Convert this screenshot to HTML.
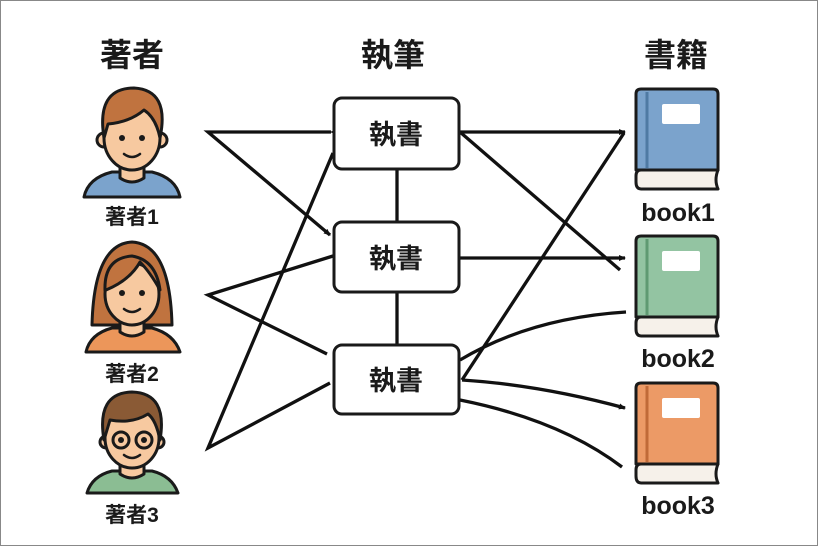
<!DOCTYPE html>
<html><head><meta charset="utf-8"><style>
html,body{margin:0;padding:0;background:#fff}
svg{display:block}
text{font-family:"Liberation Sans","Noto Sans CJK JP",sans-serif;font-weight:bold;fill:#1a1a1a}
</style></head><body>
<svg width="818" height="546" viewBox="0 0 818 546" xmlns="http://www.w3.org/2000/svg">
<defs>
<marker id="a" markerWidth="8" markerHeight="8" refX="6" refY="4" orient="auto" markerUnits="userSpaceOnUse"><path d="M0,1 L7,4 L0,7 z" fill="#111"/></marker>
</defs>
<rect x="0.5" y="0.5" width="817" height="545" fill="#fff" stroke="#888"/>
<text x="132" y="66" font-size="32" text-anchor="middle">著者</text>
<text x="393" y="66" font-size="32" text-anchor="middle">執筆</text>
<text x="676" y="66" font-size="32" text-anchor="middle">書籍</text>

<!-- author avatars -->
<g stroke="#1a1a1a" stroke-width="3" stroke-linejoin="round">
 <!-- author1 -->
 <path d="M84,197 Q88,178 112,172 L152,172 Q176,178 180,197 Z" fill="#7ba3cc"/>
 <path d="M120,160 L120,178 Q132,186 144,178 L144,160 Z" fill="#f7c9a0"/>
 <circle cx="104" cy="140" r="7" fill="#f7c9a0"/><circle cx="160" cy="140" r="7" fill="#f7c9a0"/>
 <ellipse cx="132" cy="138" rx="28" ry="32" fill="#f7c9a0"/>
 <path d="M104,138 Q96,88 134,88 Q170,90 160,138 Q156,118 144,110 Q130,122 108,124 Z" fill="#c0733f"/>
 <!-- author2 -->
 <path d="M92,325 Q94,244 132,242 Q170,244 172,325 Z" fill="#c0733f"/>
 <path d="M86,352 Q90,334 112,328 L152,328 Q174,334 180,352 Z" fill="#ec965a"/>
 <path d="M120,315 L120,332 Q132,340 144,332 L144,315 Z" fill="#f7c9a0"/>
 <ellipse cx="132" cy="294" rx="27" ry="31" fill="#f7c9a0"/>
 <path d="M105,290 Q104,258 132,256 Q156,260 160,290 Q150,272 140,262 Q130,280 106,290 Z" fill="#c0733f"/>
 <!-- author3 -->
 <path d="M87,493 Q92,476 112,471 L152,471 Q172,476 178,493 Z" fill="#8bbd93"/>
 <path d="M120,458 L120,474 Q132,482 144,474 L144,458 Z" fill="#f7c9a0"/>
 <circle cx="106" cy="442" r="6" fill="#f7c9a0"/><circle cx="158" cy="442" r="6" fill="#f7c9a0"/>
 <ellipse cx="132" cy="438" rx="27" ry="30" fill="#f7c9a0"/>
 <path d="M104,440 Q96,393 132,392 Q168,393 160,440 Q156,420 148,414 Q132,424 110,420 Z" fill="#8a5a35"/>
 <circle cx="121" cy="440" r="8" fill="none"/><circle cx="144" cy="440" r="8" fill="none"/>
</g>
<g fill="#1a1a1a">
 <circle cx="122" cy="138" r="3"/><circle cx="142" cy="138" r="3"/>
 <circle cx="122" cy="293" r="3"/><circle cx="142" cy="293" r="3"/>
 <circle cx="121" cy="440" r="3"/><circle cx="144" cy="440" r="3"/>
</g>
<g fill="none" stroke="#1a1a1a" stroke-width="2.5" stroke-linecap="round">
 <path d="M124,154 Q132,160 140,154"/><path d="M124,309 Q132,315 140,309"/><path d="M124,455 Q132,461 140,455"/>
</g>
<text x="132" y="224" font-size="21" text-anchor="middle">著者1</text>
<text x="132" y="381" font-size="21" text-anchor="middle">著者2</text>
<text x="132" y="522" font-size="21" text-anchor="middle">著者3</text>

<!-- connectors -->
<g stroke="#111" stroke-width="3.3" fill="none">
 <line x1="397" y1="169" x2="397" y2="222"/>
 <line x1="397" y1="292" x2="397" y2="345"/>
 <polyline points="331,132 208,132 330,235" marker-start="url(#a)" marker-end="url(#a)"/>
 <polyline points="333,256 208,295 327,354"/>
 <polyline points="333,153 208,448 330,383"/>
 <line x1="460" y1="132" x2="625" y2="132" marker-end="url(#a)"/>
 <line x1="460" y1="132" x2="620" y2="270"/>
 <line x1="460" y1="258" x2="625" y2="258" marker-end="url(#a)"/>
 <line x1="462" y1="380" x2="624" y2="133"/>
 <path d="M460,360 Q530,318 626,312"/>
 <path d="M462,380 Q540,385 625,408" marker-end="url(#a)"/>
 <path d="M460,400 Q560,420 622,467"/>
</g>

<!-- boxes -->
<g stroke="#1a1a1a" stroke-width="3" fill="#fff">
 <rect x="334" y="98" width="125" height="71" rx="8"/>
 <rect x="334" y="222" width="125" height="70" rx="8"/>
 <rect x="334" y="345" width="125" height="69" rx="8"/>
</g>
<text x="396" y="144" font-size="27" text-anchor="middle">執書</text>
<text x="396" y="268" font-size="27" text-anchor="middle">執書</text>
<text x="396" y="390" font-size="27" text-anchor="middle">執書</text>

<!-- books -->
<g stroke="#1a1a1a" stroke-width="3" stroke-linejoin="round">
 <g>
  <path d="M636,170 L636,94 Q636,89 641,89 L713,89 Q718,89 718,94 L718,170 Z" fill="#7ba3cc"/>
  <path d="M641,170 L718,170 Q714,180 718,189 L641,189 Q636,189 636,182 L636,176 Q636,170 641,170 Z" fill="#f6f1ea"/>
  <rect x="662" y="104" width="38" height="20" rx="2" fill="#fff" stroke="none"/>
  <line x1="647" y1="92" x2="647" y2="168" stroke="#4f7aa3" stroke-width="3"/>
 </g>
 <g>
  <path d="M636,317 L636,241 Q636,236 641,236 L713,236 Q718,236 718,241 L718,317 Z" fill="#93c4a2"/>
  <path d="M641,317 L718,317 Q714,327 718,336 L641,336 Q636,336 636,329 L636,323 Q636,317 641,317 Z" fill="#f6f1ea"/>
  <rect x="662" y="251" width="38" height="20" rx="2" fill="#fff" stroke="none"/>
  <line x1="647" y1="239" x2="647" y2="315" stroke="#5f9a72" stroke-width="3"/>
 </g>
 <g>
  <path d="M636,464 L636,388 Q636,383 641,383 L713,383 Q718,383 718,388 L718,464 Z" fill="#ec9a66"/>
  <path d="M641,464 L718,464 Q714,474 718,483 L641,483 Q636,483 636,476 L636,470 Q636,464 641,464 Z" fill="#f6f1ea"/>
  <rect x="662" y="398" width="38" height="20" rx="2" fill="#fff" stroke="none"/>
  <line x1="647" y1="386" x2="647" y2="462" stroke="#c06a38" stroke-width="3"/>
 </g>
</g>
<text x="678" y="221" font-size="25" text-anchor="middle">book1</text>
<text x="678" y="367" font-size="25" text-anchor="middle">book2</text>
<text x="678" y="514" font-size="25" text-anchor="middle">book3</text>
</svg>
</body></html>
